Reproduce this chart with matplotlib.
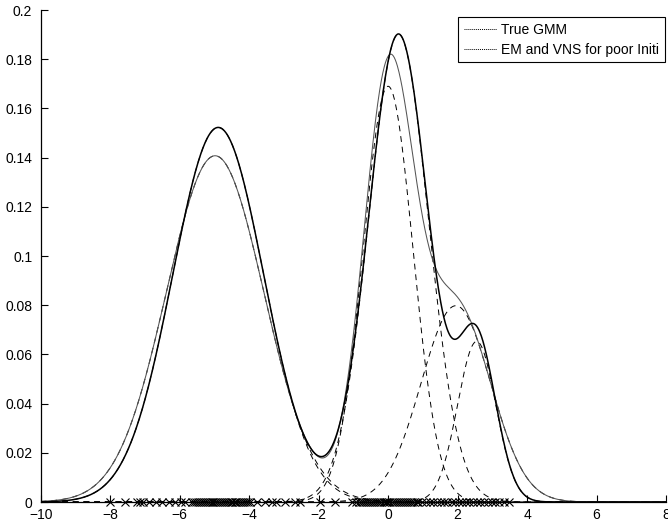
import matplotlib.pyplot as plt
import numpy as np
from matplotlib.lines import Line2D

plt.rcParams['font.family'] = ['Liberation Sans', 'DejaVu Sans']

# GMM parameters
true_w = [0.495, 0.305, 0.20]
true_mu = [-4.98, 0.0, 1.95]
true_sd = [1.403, 0.72, 1.0]

em_w = [0.50, 0.41, 0.09]
em_mu = [-4.89, 0.3, 2.55]
em_sd = [1.31, 0.86, 0.55]

# samples shown as crosses on the x axis
samples = [-8.0, -7.56, -7.23, -7.15, -7.05, -6.87, -6.69, -6.5, -6.32, -6.14,
           -5.96, -5.84, -5.65, -5.58, -5.52, -5.47, -5.41, -5.36, -5.3, -5.25,
           -5.19, -5.14, -5.08, -5.03, -4.97, -4.92, -4.86, -4.81, -4.75, -4.7,
           -4.64, -4.59, -4.53, -4.48, -4.42, -4.37, -4.31, -4.26, -4.2, -4.15,
           -4.09, -4.03, -3.97, -3.77, -3.53, -3.34, -3.22, -2.98, -2.67, -2.55,
           -1.95, -1.52, -1.03, -0.91, -0.85, -0.79, -0.73, -0.67, -0.61, -0.55,
           -0.49, -0.43, -0.37, -0.31, -0.25, -0.19, -0.13, -0.07, -0.02, 0.04,
           0.1, 0.16, 0.22, 0.28, 0.34, 0.4, 0.46, 0.52, 0.58, 0.64, 0.7, 0.76,
           0.82, 0.87, 0.97, 1.09, 1.2, 1.29, 1.41, 1.52, 1.6, 1.71, 1.83, 1.93,
           2.03, 2.12, 2.24, 2.33, 2.45, 2.56, 2.66, 2.77, 2.88, 2.98, 3.09,
           3.2, 3.33, 3.47]

xticks = [-10, -8, -6, -4, -2, 0, 2, 4, 6, 8]
yticks = [0, 0.02, 0.04, 0.06, 0.08, 0.1, 0.12, 0.14, 0.16, 0.18, 0.2]
ytick_labels = ['0', '0.02', '0.04', '0.06', '0.08', '0.1', '0.12', '0.14',
                '0.16', '0.18', '0.2']


def gauss(x, w, m, s):
    return w * np.exp(-(x - m) ** 2 / (2 * s ** 2)) / (s * np.sqrt(2 * np.pi))


x = np.linspace(-10, 8, 1200)

fig = plt.figure(figsize=(6.68, 5.24), dpi=100)
ax = fig.add_axes([40.7 / 668, 22 / 524, (666 - 40.7) / 668, 492 / 524])

# dashed components of both mixtures
for w, m, s in list(zip(true_w, true_mu, true_sd)) + list(zip(em_w, em_mu, em_sd)):
    ax.plot(x, gauss(x, w, m, s), color='black', lw=0.7, linestyle=(0, (6, 5)))

true_pdf = sum(gauss(x, w, m, s) for w, m, s in zip(true_w, true_mu, true_sd))
em_pdf = sum(gauss(x, w, m, s) for w, m, s in zip(em_w, em_mu, em_sd))

ax.plot(x, true_pdf, color='#555555', lw=0.75)
ax.plot(x, em_pdf, color='black', lw=1.1)

ax.plot(samples, np.zeros(len(samples)), linestyle='none', marker='x',
        color='black', markersize=6, markeredgewidth=0.8, clip_on=False)

ax.set_xlim(-10, 8)
ax.set_ylim(0, 0.2)
ax.set_xticks(xticks)
ax.set_xticklabels([str(t).replace('-', '\u2212') for t in xticks])
ax.set_yticks(yticks)
ax.set_yticklabels(ytick_labels)
ax.tick_params(direction='in', length=5, width=0.8, labelsize=10)
ax.tick_params(axis='y', pad=6)
ax.tick_params(axis='x', pad=4)
for side in ['top', 'right']:
    ax.spines[side].set_visible(False)
for side in ['left', 'bottom']:
    ax.spines[side].set_linewidth(0.9)

handles = [Line2D([], [], color='black', lw=0.7, linestyle=(0, (1, 1))),
           Line2D([], [], color='black', lw=0.7, linestyle=(0, (1, 1)))]
leg = ax.legend(handles, ['True GMM', 'EM and VNS for poor Initi'],
                loc='upper left', bbox_to_anchor=(458 / 668, 1 - 17 / 524),
                bbox_transform=fig.transFigure, fontsize=10, frameon=True,
                fancybox=False, edgecolor='black', framealpha=1,
                handlelength=2.4, handletextpad=0.3, borderpad=0.4,
                labelspacing=0.45, borderaxespad=0)
leg.get_frame().set_linewidth(0.8)

fig.savefig('out.png', dpi=100)
